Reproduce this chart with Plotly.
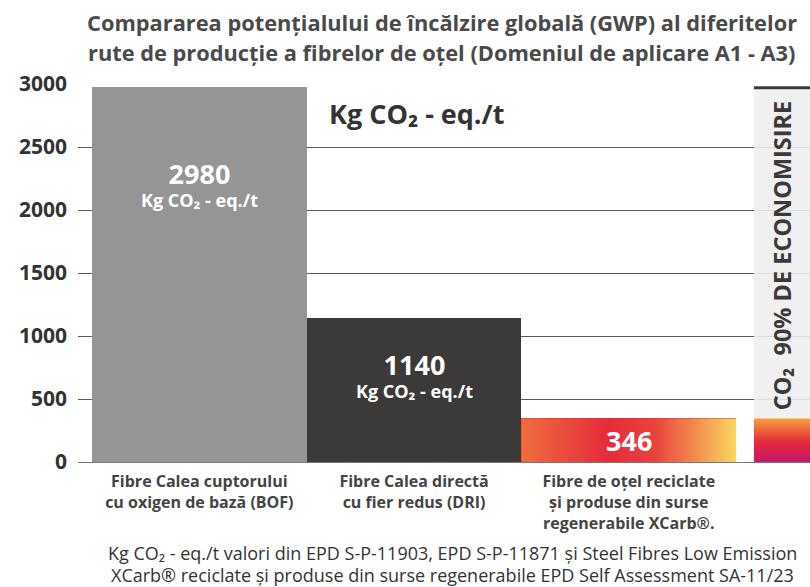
import plotly.graph_objects as go

# ---- data ----
categories = [
    "Fibre Calea cuptorului<br>cu oxigen de bază (BOF)",
    "Fibre Calea directă<br>cu fier redus (DRI)",
    "Fibre de oțel reciclate<br>și produse din surse<br>regenerabile XCarb®.",
]
gwp_values = [2980, 1140, 346]
value_labels = ["2980", "1140", "346"]
unit_label = "Kg CO₂ - eq./t"
bar_colors = ["#959595", "#3b3a38", "#e8323c"]
y_ticks = [0, 500, 1000, 1500, 2000, 2500, 3000]
panel_top = 2970
panel_text = "CO₂  90% DE ECONOMISIRE"
title_lines = [
    "Compararea potențialului de încălzire globală (GWP) al diferitelor",
    "rute de producție a fibrelor de oțel (Domeniul de aplicare A1 - A3)",
]
footer_lines = [
    "Kg CO₂ - eq./t valori din EPD S-P-11903, EPD S-P-11871 și Steel Fibres Low Emission",
    "XCarb® reciclate și produse din surse regenerabile EPD Self Assessment SA-11/23",
]

FONT = "Open Sans"
xpos = list(range(len(categories)))
XMIN, XMAX = -0.565, 2.844
panel_x0 = 2.583

fig = go.Figure()
fig.add_trace(go.Bar(x=xpos, y=gwp_values, width=1, marker=dict(color=bar_colors, line=dict(width=0)),
                     hoverinfo="skip", showlegend=False))

# gradient overlay for XCarb bar
i = 2
gx = [xpos[i] - 0.5, xpos[i] + 0.5, xpos[i] + 0.5, xpos[i] - 0.5, xpos[i] - 0.5]
gy = [0, 0, gwp_values[i], gwp_values[i], 0]
fig.add_trace(go.Scatter(x=gx, y=gy, mode="lines", fill="toself", line=dict(width=0),
                         fillgradient=dict(type="horizontal",
                                           colorscale=[[0, "#ef6d3c"], [0.4, "#e52b3c"], [0.62, "#e8423c"], [1, "#fcd660"]]),
                         hoverinfo="skip", showlegend=False))

# savings panel (grey) and gradient bottom
px = [panel_x0, XMAX + 0.1, XMAX + 0.1, panel_x0, panel_x0]
py = [0, 0, panel_top, panel_top, 0]
fig.add_trace(go.Scatter(x=px, y=py, mode="lines", fill="toself", line=dict(width=0),
                         fillcolor="rgba(238,238,238,0.88)", hoverinfo="skip", showlegend=False))
fig.add_trace(go.Scatter(x=[panel_x0, XMAX + 0.1], y=[panel_top, panel_top], mode="lines",
                         line=dict(color="#3a3a3a", width=3), hoverinfo="skip", showlegend=False))
py2 = [0, 0, gwp_values[2], gwp_values[2], 0]
fig.add_trace(go.Scatter(x=px, y=py2, mode="lines", fill="toself", line=dict(width=0),
                         fillgradient=dict(type="vertical",
                                           colorscale=[[0, "#c4186c"], [0.45, "#e5283c"], [1, "#f7a03c"]]),
                         hoverinfo="skip", showlegend=False))

ann = []
# values inside bars (label placement as fraction of bar height)
label_frac = [0.743, 0.606]
for k in range(2):
    ann.append(dict(x=xpos[k], y=gwp_values[k] * label_frac[k],
                    text="<span style='font-size:27px'><b>%s</b></span><br><b>%s</b>" % (value_labels[k], unit_label),
                    showarrow=False, font=dict(family=FONT, size=18, color="white"), xref="x", yref="y"))
ann.append(dict(x=xpos[2], y=gwp_values[2] / 2 - 5, text="<b>%s</b>" % value_labels[2], showarrow=False,
                font=dict(family=FONT, size=27, color="white"), xref="x", yref="y"))
ann.append(dict(x=1.01, y=2765, text="<b>%s</b>" % unit_label, showarrow=False,
                font=dict(family=FONT, size=27, color="#333333"), xref="x", yref="y"))
ann.append(dict(x=(panel_x0 + XMAX) / 2, y=1640, text="<b>%s</b>" % panel_text, showarrow=False, textangle=-90,
                font=dict(family=FONT, size=23.5, color="#3a3a3a"), xref="x", yref="y"))
# title
ann.append(dict(x=0.497, y=1, xref="paper", yref="paper", yanchor="middle", yshift=62,
                text="<b>%s</b>" % title_lines[0], showarrow=False,
                font=dict(family=FONT, size=21.8, color="#4a4a4a")))
ann.append(dict(x=0.497, y=1, xref="paper", yref="paper", yanchor="middle", yshift=32,
                text="<b>%s</b>" % title_lines[1], showarrow=False,
                font=dict(family=FONT, size=21.8, color="#4a4a4a")))
# footer
ann.append(dict(x=0.511, y=0, xref="paper", yref="paper", yanchor="middle", yshift=-91,
                text=footer_lines[0], showarrow=False, font=dict(family=FONT, size=18, color="#333333")))
ann.append(dict(x=0.511, y=0, xref="paper", yref="paper", yanchor="middle", yshift=-113,
                text=footer_lines[1], showarrow=False, font=dict(family=FONT, size=18, color="#333333")))

fig.update_layout(
    width=810, height=587,
    margin=dict(l=78, r=0, t=84, b=125, autoexpand=False),
    plot_bgcolor="white", paper_bgcolor="white",
    bargap=0, showlegend=False,
    annotations=ann,
    xaxis=dict(range=[XMIN, XMAX], tickmode="array", tickvals=xpos, automargin=False,
               ticktext=["<b>%s</b>" % c for c in categories],
               tickfont=dict(family=FONT, size=16, color="#444444"),
               showgrid=False, zeroline=False, showline=False, ticks="", ticklabelstandoff=8),
    yaxis=dict(range=[0, 3000], tickmode="array", tickvals=y_ticks, automargin=False,
               ticktext=["<b>%d</b>" % v for v in y_ticks],
               tickfont=dict(family=FONT, size=21, color="#333333"),
               showgrid=True, gridcolor="#5a5a5a", gridwidth=1,
               zeroline=True, zerolinecolor="#777777", zerolinewidth=1,
               showline=False, ticks="", ticklabelstandoff=10),
)

fig.write_html("out.html", config={"displayModeBar": False},
               post_script="document.body.style.margin='0';document.body.style.overflow='hidden';")
